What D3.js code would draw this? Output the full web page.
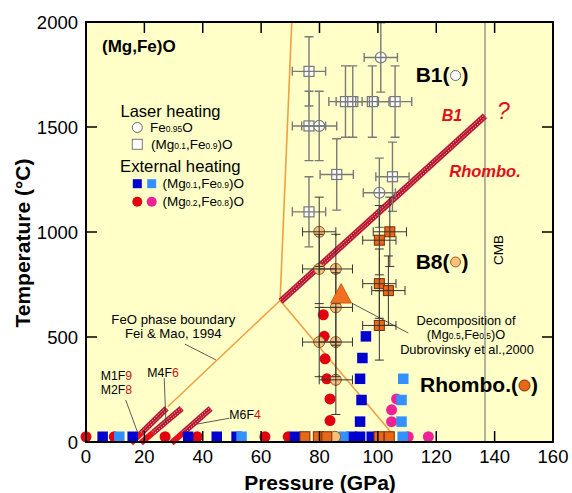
<!DOCTYPE html>
<html><head><meta charset="utf-8">
<script src="https://cdn.jsdelivr.net/npm/d3@7"></script>
<style>body{margin:0;background:#fff} svg{display:block}</style>
</head><body>
<script>
// ---------------- DATA ----------------
const xTicks = [0, 20, 40, 60, 80, 100, 120, 140, 160];
const yTicks = [0, 500, 1000, 1500, 2000];
// Laser heating [P (GPa), T (°C), dP, dT]
const laserFe = [[101, 1831, 5.7, 165], [79.9, 1505, 6, 165], [100.5, 1187, 5.5, 165]];
const laserMg = [[76.4, 1765, 5.7, 165], [76.4, 1505, 5.7, 165], [88.9, 1621, 5.7, 170], [91.4, 1621, 5.7, 170],
                 [98.1, 1621, 5.7, 170], [105.9, 1621, 5.7, 170], [85.9, 1274, 5.7, 170], [105, 1263, 5.7, 165],
                 [76.4, 1096, 5.7, 167]];
// External heating [P, T]
const extMg01Dark = [[95.9, 503], [94.7, 400], [93.9, 301], [94.4, 200], [93.9, 97],
                     [5.7, 25], [16, 25], [35, 25], [44.8, 25], [51.6, 25], [71.6, 25], [91, 25], [93.9, 25], [97.9, 25]];
const extMg01Light = [[108.7, 301], [108.1, 200], [108.1, 97], [11.4, 25], [53.3, 25], [88.2, 25], [108.5, 25]];
const extMg02Red = [[81.3, 606], [81.6, 503], [81.9, 396], [82.5, 301], [83.6, 205], [83.6, 102],
                    [0, 25], [9.7, 25], [27.1, 25], [38.1, 25], [61.3, 25], [69.3, 25]];
const extMg02Magenta = [[104.7, 153], [104.7, 97], [106.4, 205], [110.4, 25], [117.3, 25]];
// Phase identification [P, T, dP, dT]
const b8Phase = [[79.9, 1001, 5.7, 165], [79.9, 824, 5.7, 165], [85.6, 824, 5.7, 165], [85.6, 641, 5.7, 165],
                 [79.9, 476, 5.7, 165], [85.6, 476, 5.7, 165], [85.6, 296, 5.7, 165]];
const b8Quench = [[85.3, 25]];
const rhomboPhase = [[104.1, 1001, 5.7, 165], [100.5, 961, 5.7, 165], [100.5, 754, 5.7, 165],
                     [103.6, 721, 5.7, 165], [100.5, 555, 5.7, 165]];
const rhomboQuench = [[75, 25], [79.6, 25], [82.5, 25], [100.4, 25], [103.9, 25]];
const decomposition = [[87.4, 702]];
// Boundaries
const feoBoundary = [[[28, 168], [66.5, 674]], [[66.5, 674], [70.5, 2000]], [[66.5, 674], [105.5, 30]]];
const b1RhomboBoundary = [[66.7, 670], [136.7, 1553]];
const lowBands = [[[15.4, -5], [27.6, 160]], [[18.8, -5], [32.8, 160]], [[29.3, -5], [42.7, 160]]];
const lowBandSolidTop = 45;
const cmbP = 136.7;
// leader lines for annotations [P,T]
const leaders = [
  [[33.9, 466], [44.5, 391]],
  [[13.6, 200], [17.6, 49]],
  [[26.8, 304], [27.4, 89]],
  [[49.1, 113], [37.9, 85]],
  [[91.4, 659], [110.4, 519]]
];

// ---------------- CHART ----------------
const W = 572, H = 493;
const m = {l: 86, t: 22, r: 553, b: 442};
const FONT = '"Liberation Sans", Arial, Helvetica, sans-serif';
const x = d3.scaleLinear().domain([0, 160]).range([m.l, m.r]);
const y = d3.scaleLinear().domain([0, 2000]).range([m.b, m.t]);
const svg = d3.select('body').append('svg').attr('width', W).attr('height', H)
  .style('font-family', FONT);

svg.append('rect').attr('x', m.l).attr('y', m.t).attr('width', m.r - m.l).attr('height', m.b - m.t)
  .attr('fill', '#ffffc8');

const line = d3.line().x(d => x(d[0])).y(d => y(d[1]));

// CMB line
svg.append('line').attr('x1', x(cmbP)).attr('x2', x(cmbP)).attr('y1', y(0)).attr('y2', y(2000))
  .attr('stroke', '#808080').attr('stroke-width', 1.2);

// FeO boundary
feoBoundary.forEach(seg => svg.append('path').attr('d', line(seg)).attr('fill', 'none')
  .attr('stroke', '#f0a040').attr('stroke-width', 1.6));

// hatched band
function hatched(pts, wdt) {
  const px = pts.map(d => [x(d[0]), y(d[1])]);
  const dx = px[1][0] - px[0][0], dy = px[1][1] - px[0][1];
  const L = Math.hypot(dx, dy), nx = -dy / L, ny = dx / L;
  svg.append('path').attr('d', d3.line()(px)).attr('fill', 'none')
    .attr('stroke', '#b8142e').attr('stroke-width', wdt);
  [-1, 1].forEach((s, i) => {
    const o = px.map(p => [p[0] + s * nx * wdt * 0.2, p[1] + s * ny * wdt * 0.2]);
    svg.append('path').attr('d', d3.line()(o)).attr('fill', 'none')
      .attr('stroke', '#f6c4cc').attr('stroke-width', 1.0)
      .attr('stroke-dasharray', '1.3 1.3').attr('stroke-dashoffset', i * 1.3);
  });
}
hatched(b1RhomboBoundary, 6.5);
lowBands.forEach(b => {
  const [p0, T0] = b[0], [p1, T1] = b[1];
  const pm = p0 + (p1 - p0) * (lowBandSolidTop - T0) / (T1 - T0);
  hatched([[pm, lowBandSolidTop], b[1]], 6);
  svg.append('path').attr('d', line([b[0], [pm, lowBandSolidTop]])).attr('fill', 'none')
    .attr('stroke', '#e8101a').attr('stroke-width', 6);
});

// leader lines
leaders.forEach(l => svg.append('path').attr('d', line(l)).attr('fill', 'none')
  .attr('stroke', '#333').attr('stroke-width', 0.8));

// markers
function squares(data, size, fill, stroke, sw) {
  svg.append('g').selectAll('rect').data(data).join('rect')
    .attr('x', d => x(d[0]) - size / 2).attr('y', d => y(d[1]) - size / 2)
    .attr('width', size).attr('height', size).attr('fill', fill)
    .attr('stroke', stroke || 'none').attr('stroke-width', sw || 0);
}
function circles(data, r, fill, stroke, sw) {
  svg.append('g').selectAll('circle').data(data).join('circle')
    .attr('cx', d => x(d[0])).attr('cy', d => y(d[1])).attr('r', r).attr('fill', fill)
    .attr('stroke', stroke || 'none').attr('stroke-width', sw || 0);
}
function errorBars(data, color, sw) {
  const cap = 4.5;
  const g = svg.append('g');
  data.forEach(([p, T, dp, dT]) => {
    const cx = x(p), cy = y(T), x0 = x(p - dp), x1 = x(p + dp), y0 = y(T - dT), y1 = y(T + dT);
    const d = `M${x0},${cy}H${x1}M${cx},${y0}V${y1}` +
      `M${x0},${cy - cap}V${cy + cap}M${x1},${cy - cap}V${cy + cap}` +
      `M${cx - cap},${y0}H${cx + cap}M${cx - cap},${y1}H${cx + cap}`;
    g.append('path').attr('d', d).attr('fill', 'none').attr('stroke', color).attr('stroke-width', sw);
  });
}

// laser heating
squares(laserMg, 10, '#ffffff', '#777', 1.2);
circles(laserFe, 5.5, '#ffffff', '#777', 1.2);
errorBars(laserMg, '#7a7a7a', 1.4);
errorBars(laserFe, '#7a7a7a', 1.4);

// external heating
circles(extMg02Red, 5.5, '#e00010');
circles(extMg02Magenta, 5.5, '#ee2294');
squares(extMg01Dark, 10.5, '#0000d0');
squares(extMg01Light, 10.5, '#3390ff');

// phases
circles(b8Phase, 5.5, '#f5c07a', '#9a5a20', 1);
circles(b8Quench, 5.5, '#f5c07a', '#9a5a20', 1);
squares(rhomboPhase, 10, '#e8681a', '#7a2a08', 1);
squares(rhomboQuench, 10, '#e8681a', '#7a2a08', 1);
errorBars(b8Phase, '#333', 1);
errorBars(rhomboPhase, '#333', 1);

// decomposition triangle
svg.append('g').selectAll('path').data(decomposition).join('path')
  .attr('d', d => { const cx = x(d[0]), cy = y(d[1]);
    return `M${cx},${cy - 11}L${cx + 10.5},${cy + 8.5}L${cx - 10.5},${cy + 8.5}Z`; })
  .attr('fill', '#f07020').attr('stroke', '#c05010').attr('stroke-width', 0.8);

// ---------------- AXES ----------------
const ax = svg.append('g').attr('stroke', '#000');
ax.append('rect').attr('x', m.l).attr('y', m.t).attr('width', m.r - m.l).attr('height', m.b - m.t)
  .attr('fill', 'none').attr('stroke-width', 2);
const TL = 11;
xTicks.forEach(t => {
  ax.append('line').attr('x1', x(t)).attr('x2', x(t)).attr('y1', m.b).attr('y2', m.b - TL).attr('stroke-width', 1.5);
  ax.append('line').attr('x1', x(t)).attr('x2', x(t)).attr('y1', m.t).attr('y2', m.t + TL).attr('stroke-width', 1.5);
});
yTicks.forEach(t => {
  ax.append('line').attr('x1', m.l).attr('x2', m.l + TL).attr('y1', y(t)).attr('y2', y(t)).attr('stroke-width', 1.5);
  ax.append('line').attr('x1', m.r).attr('x2', m.r - TL).attr('y1', y(t)).attr('y2', y(t)).attr('stroke-width', 1.5);
});
svg.append('g').selectAll('text').data(xTicks).join('text')
  .attr('x', d => x(d)).attr('y', 463).attr('text-anchor', 'middle')
  .attr('font-size', 18.5).text(d => d);
svg.append('g').selectAll('text').data(yTicks).join('text')
  .attr('x', 78).attr('y', d => y(d) + 6.5).attr('text-anchor', 'end')
  .attr('font-size', 18.5).text(d => d);

svg.append('text').attr('x', 320).attr('y', 490).attr('text-anchor', 'middle')
  .attr('font-size', 21).attr('font-weight', 'bold').text('Pressure (GPa)');
svg.append('text').attr('transform', 'translate(30,243) rotate(-90)').attr('text-anchor', 'middle')
  .attr('font-size', 21).attr('font-weight', 'bold').text('Temperature (°C)');

// ---------------- LABELS ----------------
function txt(xp, yp, s, size, opts) {
  const t = svg.append('text').attr('x', xp).attr('y', yp).attr('font-size', size).text(s);
  if (opts) Object.entries(opts).forEach(([k, v]) => t.attr(k, v));
  return t;
}
function subText(xp, yp, parts, size, subSize) {
  const t = svg.append('text').attr('x', xp).attr('y', yp).attr('font-size', size);
  parts.forEach((p, i) => t.append('tspan').attr('font-size', i % 2 ? subSize : size).text(p));
  return t;
}
txt(102, 52, '(Mg,Fe)O', 17, {'font-weight': 'bold'});
txt(120.5, 116.7, 'Laser heating', 16.5);
svg.append('circle').attr('cx', 137.3).attr('cy', 127.5).attr('r', 5).attr('fill', '#fff').attr('stroke', '#666').attr('stroke-width', 1);
subText(150, 131.5, ['Fe', '0.95', 'O'], 13.5, 8.5);
svg.append('rect').attr('x', 132.3).attr('y', 139.3).attr('width', 10).attr('height', 10).attr('fill', '#fff').attr('stroke', '#777').attr('stroke-width', 1);
subText(151, 148.5, ['(Mg', '0.1', ',Fe', '0.9', ')O'], 13.5, 8.5);
txt(120, 171.7, 'External heating', 16.7);
svg.append('rect').attr('x', 132.8).attr('y', 179.2).attr('width', 9).attr('height', 9).attr('fill', '#0000d0');
svg.append('rect').attr('x', 147.2).attr('y', 179.2).attr('width', 9).attr('height', 9).attr('fill', '#3390ff');
subText(162.5, 188, ['(Mg', '0.1', ',Fe', '0.9', ')O'], 13.5, 8.5);
svg.append('circle').attr('cx', 137.3).attr('cy', 201.7).attr('r', 5).attr('fill', '#e00010');
svg.append('circle').attr('cx', 151.7).attr('cy', 201.7).attr('r', 5).attr('fill', '#ee2294');
subText(162.5, 206, ['(Mg', '0.2', ',Fe', '0.8', ')O'], 13.5, 8.5);

// phase labels with inline symbol
function phaseLabel(xp, yp, s, r, fill, stroke) {
  const t = txt(xp, yp, s, 21, {'font-weight': 'bold'});
  const w = t.node().getComputedTextLength();
  const cx = xp + w + r + 1;
  svg.append('circle').attr('cx', cx).attr('cy', yp - 6.5).attr('r', r)
    .attr('fill', fill).attr('stroke', stroke).attr('stroke-width', 1);
  txt(cx + r + 1, yp, ')', 21, {'font-weight': 'bold'});
}
phaseLabel(415.7, 82, 'B1(', 5, '#fff', '#666');
phaseLabel(415.7, 268.5, 'B8(', 5, '#f5c07a', '#9a5a20');
phaseLabel(420, 392, 'Rhombo.(', 5.5, '#e8681a', '#7a2a08');

txt(441.7, 120.7, 'B1', 16, {'font-weight': 'bold', 'font-style': 'italic', fill: '#e0101a'});
txt(449.3, 176.7, 'Rhombo.', 16.5, {'font-weight': 'bold', 'font-style': 'italic', fill: '#e0101a'});
txt(497, 118.5, '?', 23, {'font-style': 'italic', fill: '#e0101a'});
svg.append('text').attr('transform', 'translate(503,250) rotate(-90)').attr('text-anchor', 'middle')
  .attr('font-size', 13.5).text('CMB');

// decomposition label
txt(466, 324.5, 'Decomposition of', 12.8, {'text-anchor': 'middle'});
subText(466, 339, ['(Mg', '0.5', ',Fe', '0.5', ')O'], 12.8, 8.5).attr('text-anchor', 'middle');
txt(467, 353.5, 'Dubrovinsky et al.,2000', 12.8, {'text-anchor': 'middle'});

// FeO boundary label
txt(173.3, 323.5, 'FeO phase boundary', 13.2, {'text-anchor': 'middle'});
txt(173.3, 338.3, 'Fei & Mao, 1994', 13.2, {'text-anchor': 'middle'});

function mLabel(xp, yp, a, b) {
  const t = svg.append('text').attr('x', xp).attr('y', yp).attr('font-size', 12.3);
  t.append('tspan').text(a);
  t.append('tspan').attr('fill', '#d01010').text(b);
}
mLabel(100.7, 379.5, 'M1F', '9');
mLabel(100.7, 393.5, 'M2F', '8');
mLabel(147.3, 376.7, 'M4F', '6');
mLabel(229.3, 419.3, 'M6F', '4');
</script>
</body></html>
